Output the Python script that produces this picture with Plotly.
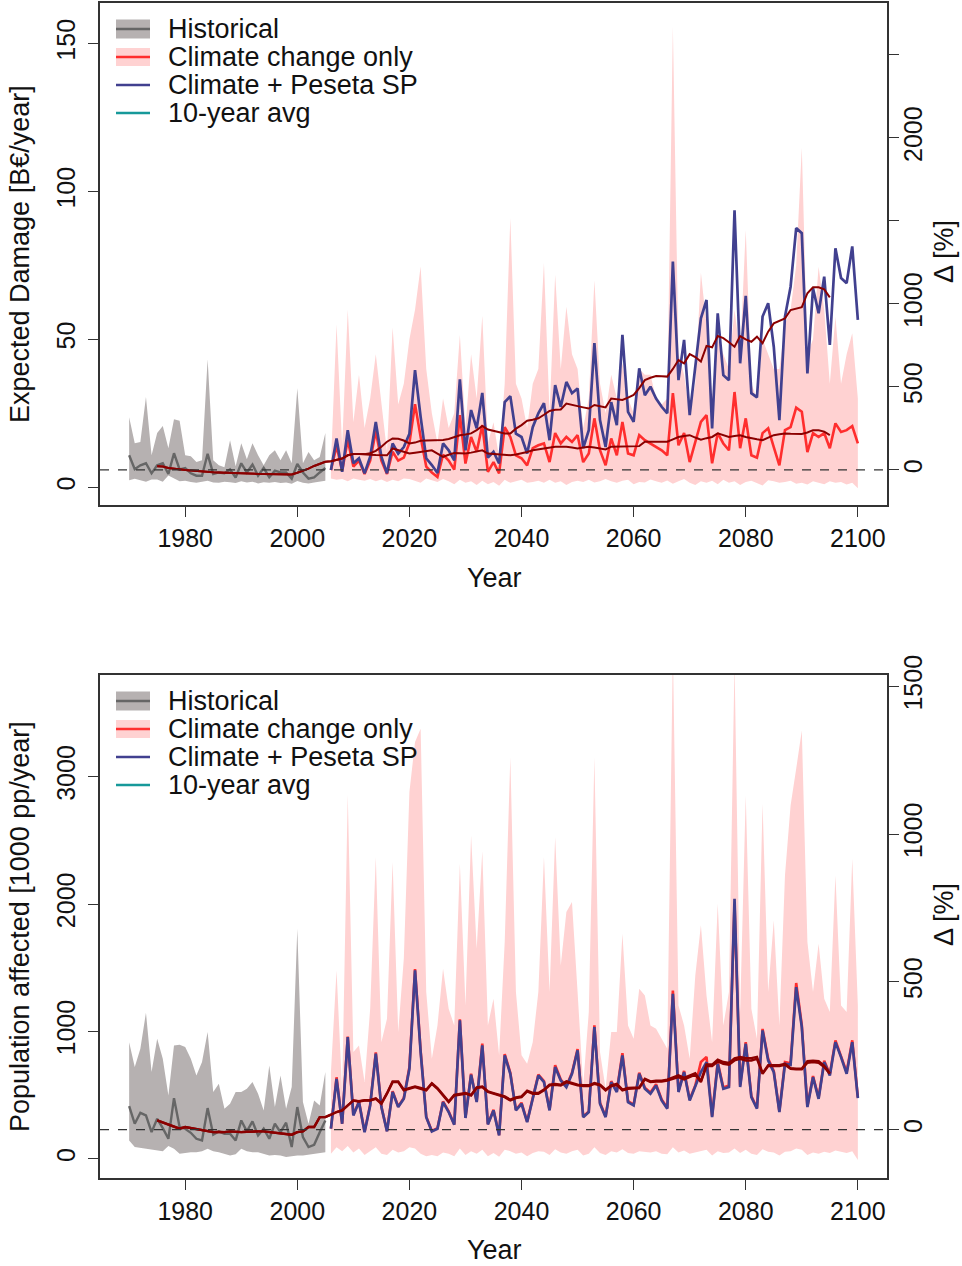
import plotly.graph_objects as go

# ---------------- data ----------------
hist_years = list(range(1970, 2006))
fut_years = list(range(2006, 2101))
avg_years = list(range(1975, 2096))

# Top panel: Expected damage [B EUR / year]
hist_dmg_med = [10.8, 6.1, 7.4, 8.1, 4.7, 7.4, 8.1, 4.5, 11.5, 6.0,
                6.5, 4.7, 3.9, 3.9, 11.3, 4.5, 5.0, 4.7, 6.0, 3.3,
                8.1, 5.0, 7.7, 3.9, 6.5, 3.4, 5.6, 5.0, 5.0, 2.9,
                7.9, 5.0, 2.9, 3.3, 5.0, 6.5]
hist_dmg_hi = [23.7, 14.9, 15.3, 30.5, 10.8, 18.3, 20.7, 13.2, 23.0, 22.5,
               10.8, 10.5, 8.5, 9.1, 43.3, 9.1, 7.4, 6.8, 15.9, 7.1,
               14.9, 9.5, 14.9, 10.8, 7.4, 10.8, 12.5, 9.1, 12.5, 8.1,
               33.5, 8.1, 11.9, 9.1, 10.2, 18.3]
hist_dmg_lo = [2.4, 2.9, 2.4, 1.9, 2.6, 2.6, 1.9, 4.0, 3.0, 2.0,
               2.2, 1.8, 1.5, 1.9, 2.2, 1.6, 1.5, 1.9, 1.7, 1.4,
               2.0, 1.6, 1.9, 1.3, 1.7, 1.5, 1.8, 1.4, 1.6, 1.2,
               2.1, 1.5, 1.3, 1.6, 1.8, 2.2]

cc_dmg_med = [5.8, 14.0, 5.5, 16.0, 7.0, 9.0, 4.5, 9.0, 19.0, 9.0,
              4.5, 12.0, 9.0, 10.0, 15.0, 28.1, 17.0, 7.0, 5.0, 3.5,
              11.0, 9.0, 6.0, 24.4, 8.0, 17.0, 12.0, 21.0, 5.2, 8.5,
              4.7, 20.3, 17.0, 10.8, 9.8, 7.4, 13.2, 14.2, 14.8, 8.5,
              18.3, 14.8, 17.0, 15.3, 17.6, 8.5, 11.4, 23.3, 12.5, 7.4,
              16.5, 10.8, 22.1, 11.4, 10.8, 17.6, 15.9, 14.8, 13.6, 12.5,
              10.8, 31.8, 14.2, 18.3, 8.5, 15.3, 22.1, 24.4, 8.1, 18.3,
              14.8, 12.5, 32.2, 13.2, 23.3, 10.8, 10.0, 18.3, 19.9, 13.6,
              7.4, 19.3, 20.3, 26.9, 25.5, 11.9, 18.3, 17.0, 18.3, 13.2,
              21.6, 18.7, 19.3, 20.7, 14.8]
sp_dmg_med = [5.8, 16.5, 5.2, 19.3, 8.1, 9.8, 4.7, 10.3, 22.1, 10.3,
              4.7, 14.8, 11.4, 13.6, 18.1, 39.6, 23.8, 9.8, 7.5, 4.8,
              14.8, 12.5, 9.1, 36.5, 12.5, 26.1, 19.9, 31.9, 10.0, 12.0,
              8.1, 28.8, 30.8, 18.1, 17.0, 11.4, 20.3, 25.0, 28.4, 15.9,
              34.5, 27.2, 35.6, 31.8, 33.4, 13.2, 19.3, 48.7, 22.7, 13.6,
              28.8, 21.0, 51.5, 25.5, 22.1, 40.2, 31.1, 34.0, 30.0, 27.2,
              25.0, 76.3, 36.2, 49.8, 24.4, 40.7, 57.1, 63.3, 19.9, 58.8,
              37.9, 36.2, 93.6, 41.9, 64.7, 31.8, 30.4, 57.7, 62.2, 47.5,
              22.7, 57.7, 67.8, 87.6, 85.9, 38.5, 67.3, 58.8, 71.2, 48.1,
              80.8, 70.7, 69.0, 81.4, 56.6]
cc_dmg_hi = [8, 55, 14, 60, 22, 38, 20, 30, 45, 28,
             12, 54, 28, 35, 50, 60, 74.6, 40, 25, 15,
             30, 20, 25, 51.5, 20, 45, 30, 58, 15, 22,
             10, 35, 91, 35, 30, 20, 35, 40, 75.8, 25,
             71.8, 40, 61, 45, 40, 20, 30, 70, 35, 25,
             38, 30, 42, 30, 25, 40, 38, 38, 30, 28,
             30, 155.8, 45, 38, 25, 35, 72.5, 55, 30, 50,
             45, 40, 60, 45, 87, 35, 30, 50, 45, 40,
             40, 55, 60, 75, 114.8, 45, 50, 74.5, 60, 35,
             57.6, 35, 45, 52.1, 30]
cc_dmg_lo = [3.0, 2.5, 2.8, 2.0, 3.0, 2.5, 2.2, 2.8, 2.0, 2.6,
             1.8, 2.5, 2.0, 3.0, 2.8, 2.2, 1.5, 3.0, 2.5, 1.8,
             2.8, 2.0, 1.0, 2.5, 1.5, 2.0, 0.8, 2.2, 1.0, 1.8,
             0.5, 2.5, 1.5, 2.0, 2.5, 1.5, 1.8, 2.2, 1.5, 2.5,
             1.5, 2.0, 0.8, 1.8, 2.2, 1.8, 2.5, 1.6, 2.0, 2.8,
             2.0, 1.5, 2.2, 2.5, 1.0, 1.8, 1.6, 2.6, 2.0, 1.5,
             2.3, 1.2, 2.0, 2.8, 1.5, 0.8, 2.0, 1.5, 2.2, 1.0,
             2.5, 1.5, 2.0, 0.8, 1.8, 2.2, 1.5, 0.6, 2.4, 2.0,
             1.5, 1.8, 2.2, 1.2, 1.5, 0.9, 2.0, 1.5, 1.0, 2.0,
             1.5, 1.8, 0.9, 1.5, -0.3]
avg_dmg_sp = [7.1, 7.0, 6.5, 6.2, 6.0, 5.8, 5.7, 5.5, 5.4, 5.3,
              5.1, 5.0, 4.9, 4.8, 4.7, 4.7, 4.6, 4.6, 4.5, 4.5,
              4.5, 4.4, 4.4, 4.3, 4.3, 4.9, 5.5, 6.3, 7.2, 8.0,
              8.6, 8.8, 9.2, 9.7, 10.8, 11.2, 11.2, 11.2, 11.5, 12.3,
              13.7, 15.4, 16.5, 16.4, 15.8, 14.8, 15.1, 15.7, 15.8, 15.8,
              15.8, 16.0, 16.3, 17.0, 17.6, 17.8, 18.2, 19.3, 20.7, 19.5,
              19.1, 18.7, 18.2, 18.2, 19.8, 21.0, 22.5, 22.8, 23.3, 24.5,
              25.8, 26.2, 26.3, 28.3, 27.8, 27.4, 27.0, 26.6, 27.8, 27.4,
              27.0, 30.0, 29.8, 29.5, 30.3, 31.2, 33.5, 36.2, 37.0, 37.6,
              37.5, 37.4, 40.0, 43.0, 41.9, 45.0, 44.0, 42.5, 47.8, 47.3,
              51.1, 50.4, 49.0, 47.5, 51.1, 50.0, 49.2, 50.9, 48.7, 52.6,
              55.4, 56.3, 57.1, 59.9, 60.5, 60.9, 65.6, 67.6, 67.6, 66.9,
              64.2]
avg_dmg_cc = [7.1, 7.0, 6.5, 6.2, 6.0, 5.8, 5.7, 5.5, 5.4, 5.3,
              5.1, 5.0, 4.9, 4.8, 4.7, 4.7, 4.6, 4.6, 4.5, 4.5,
              4.5, 4.4, 4.4, 4.3, 4.3, 4.9, 5.5, 6.3, 7.2, 8.0,
              8.6, 8.8, 9.2, 9.7, 10.8, 11.2, 11.2, 11.2, 11.0, 10.9,
              10.9, 10.8, 13.1, 12.5, 11.8, 11.4, 11.7, 12.0, 12.2, 12.5,
              11.4, 10.3, 11.0, 11.6, 11.5, 11.4, 11.7, 12.0, 12.5, 11.4,
              11.3, 11.2, 11.0, 10.8, 11.1, 11.4, 11.9, 12.5, 12.8, 13.1,
              13.4, 13.7, 13.7, 13.7, 13.4, 13.1, 13.4, 13.7, 13.4, 13.1,
              12.8, 13.7, 13.7, 13.7, 13.8, 13.9, 13.9, 15.4, 15.4, 15.4,
              15.4, 15.4, 16.2, 17.0, 17.3, 17.6, 16.8, 16.1, 16.6, 17.0,
              18.2, 17.6, 17.0, 17.3, 17.6, 17.0, 16.5, 16.2, 15.9, 16.8,
              17.6, 17.9, 18.2, 18.1, 18.0, 18.0, 18.5, 19.3, 19.3, 18.8,
              17.6]

# Bottom panel: Population affected [1000 pp / year]
hist_pop_med = [414, 275, 361, 340, 209, 314, 241, 157, 476, 249,
                236, 204, 157, 144, 398, 189, 215, 197, 197, 144,
                301, 215, 293, 183, 236, 157, 275, 209, 283, 92,
                406, 170, 92, 110, 209, 301]
hist_pop_hi = [916, 720, 864, 1147, 681, 942, 785, 497, 890, 895,
               877, 785, 654, 759, 995, 524, 589, 393, 432, 524,
               524, 550, 602, 511, 380, 733, 406, 654, 393, 563,
               1806, 445, 275, 458, 419, 681]
hist_pop_lo = [144, 92, 85, 79, 70, 66, 60, 100, 79, 39,
               45, 52, 52, 60, 79, 60, 52, 40, 26, 35,
               79, 60, 52, 52, 40, 26, 30, 26, 13, 20,
               26, 26, 30, 39, 45, 52]
cc_pop_med = [236, 640, 275, 960, 345, 450, 212, 425, 835, 410,
              218, 530, 410, 478, 720, 1490, 850, 330, 218, 240,
              450, 372, 270, 1095, 325, 668, 450, 905, 272, 385,
              186, 822, 675, 385, 440, 292, 478, 662, 610, 385,
              735, 622, 570, 675, 862, 332, 372, 1048, 440, 332,
              610, 532, 830, 452, 425, 675, 558, 520, 585, 465,
              400, 1320, 532, 690, 465, 575, 760, 800, 335, 760,
              560, 575, 2000, 575, 915, 492, 400, 1020, 785, 690,
              372, 760, 750, 1380, 1050, 412, 650, 480, 770, 665,
              930, 810, 680, 930, 485]
sp_pop_med = [236, 628, 275, 956, 340, 445, 209, 419, 825, 406,
              215, 524, 406, 471, 707, 1479, 838, 327, 215, 236,
              445, 367, 267, 1087, 320, 660, 445, 890, 270, 380,
              183, 812, 667, 380, 432, 288, 471, 654, 602, 380,
              720, 615, 563, 667, 851, 327, 367, 1034, 432, 327,
              602, 524, 812, 445, 419, 667, 550, 511, 576, 458,
              393, 1296, 524, 681, 458, 563, 681, 759, 327, 746,
              550, 563, 2042, 563, 903, 484, 393, 1008, 772, 681,
              367, 746, 738, 1348, 1034, 406, 641, 471, 759, 654,
              916, 798, 667, 916, 476]
cc_pop_hi = [681, 1479, 524, 2860, 838, 890, 602, 1178, 2369, 916,
             1100, 2330, 995, 1571, 2880, 3272, 3377, 1309, 785, 1047,
             1492, 1178, 1047, 2317, 1204, 2539, 1649, 2415, 1047, 1257,
             812, 1702, 3154, 1309, 812, 746, 916, 1309, 2369, 1309,
             2526, 1518, 1937, 2016, 1309, 576, 1152, 3154, 838, 550,
             995, 995, 1767, 1047, 942, 1335, 1283, 1047, 1021, 942,
             864, 4000, 1204, 1047, 785, 1440, 1833, 1283, 916, 2003,
             1047, 1309, 3900, 1152, 2853, 1178, 942, 2788, 1309, 1872,
             1047, 2225, 2775, 3063, 3364, 1702, 1309, 1689, 1257, 1152,
             2225, 1204, 1152, 2356, 1204]
cc_pop_lo = [40, 90, 60, 100, 50, 80, 30, 60, 90, 40,
             30, 70, 50, 60, 90, 80, 40, 20, 30, 20,
             50, 40, 20, 80, 30, 60, 40, 70, 20, 45,
             15, 70, 60, 40, 50, 20, 45, 60, 55, 30,
             75, 50, 40, 60, 70, 25, 40, 90, 45, 30,
             60, 50, 75, 45, 40, 60, 55, 50, 60, 40,
             35, 90, 50, 65, 40, 55, 60, 70, 25, 60,
             45, 50, 80, 45, 70, 40, 30, 75, 55, 50,
             25, 55, 60, 80, 70, 30, 50, 40, 55, 45,
             65, 55, 45, 60, -10]
avg_pop_sp = [301, 285, 267, 250, 236, 249, 240, 236, 225, 215,
              209, 210, 209, 215, 212, 209, 212, 215, 215, 215,
              210, 204, 198, 189, 189, 209, 215, 249, 249, 327,
              327, 346, 367, 380, 419, 458, 450, 458, 458, 471,
              432, 511, 602, 602, 537, 550, 563, 550, 537, 589,
              550, 497, 445, 497, 503, 511, 497, 555, 563, 524,
              511, 497, 484, 458, 476, 484, 529, 511, 511, 537,
              576, 581, 576, 602, 589, 576, 571, 571, 589, 576,
              537, 571, 581, 537, 550, 555, 555, 623, 602, 607,
              607, 615, 628, 641, 623, 641, 660, 602, 728, 728,
              764, 746, 738, 772, 785, 772, 772, 785, 667, 728,
              728, 728, 738, 707, 702, 702, 754, 759, 754, 720,
              667]
avg_pop_cc = [301, 285, 267, 250, 236, 249, 240, 236, 225, 215,
              209, 210, 209, 215, 212, 209, 212, 215, 215, 215,
              210, 204, 198, 189, 189, 209, 215, 249, 249, 327,
              327, 346, 367, 380, 419, 458, 452, 460, 460, 474,
              436, 515, 607, 607, 542, 555, 568, 556, 542, 594,
              556, 502, 450, 502, 508, 516, 502, 560, 568, 530,
              516, 502, 490, 464, 482, 490, 535, 517, 517, 543,
              582, 588, 582, 608, 595, 582, 577, 577, 595, 582,
              543, 577, 588, 543, 556, 561, 561, 629, 608, 613,
              613, 621, 640, 655, 635, 655, 672, 610, 740, 740,
              778, 760, 752, 788, 800, 790, 790, 800, 672, 735,
              735, 735, 745, 712, 708, 708, 766, 771, 766, 730,
              672]

x_ticks = [1980, 2000, 2020, 2040, 2060, 2080, 2100]
x_range = [1964.8, 2105.2]

# ---------------- style ----------------
FONT = "Liberation Sans, Arial, Helvetica, sans-serif"
C_GREY_BAND = "#b6b1b1"
C_GREY_LINE = "#666666"
C_PINK = "#ffd2d2"
C_RED = "#ff2e2e"
C_BLUE = "#41408f"
C_AVG = "#8b0000"
C_TEAL = "#17999a"
C_AX = "#333333"

W, H = 962, 1266
ML, MR, MT, MB = 100, 75, 3, 88


def PX(px):
    return (px - ML) / (W - ML - MR)


def PY(py):
    return (H - MB - py) / (H - MT - MB)


fig = go.Figure()


def band(xs, lo, hi, color, xa, ya):
    fig.add_trace(go.Scatter(x=xs + xs[::-1], y=hi + lo[::-1], fill="toself",
                             fillcolor=color, line=dict(width=0), mode="lines",
                             hoverinfo="skip", showlegend=False, xaxis=xa, yaxis=ya))


def line(xs, ys, color, width, xa, ya, dash=None):
    fig.add_trace(go.Scatter(x=xs, y=ys, mode="lines",
                             line=dict(color=color, width=width, dash=dash),
                             showlegend=False, xaxis=xa, yaxis=ya))


# top panel
band(hist_years, hist_dmg_lo, hist_dmg_hi, C_GREY_BAND, "x", "y")
band(fut_years, cc_dmg_lo, cc_dmg_hi, C_PINK, "x", "y")
line(hist_years, hist_dmg_med, C_GREY_LINE, 2.4, "x", "y")
line(fut_years, cc_dmg_med, C_RED, 2.6, "x", "y")
line(fut_years, sp_dmg_med, C_BLUE, 2.7, "x", "y")
line(avg_years, avg_dmg_cc, C_AVG, 2.0, "x", "y")
line(avg_years, avg_dmg_sp, C_AVG, 2.0, "x", "y")
line(x_range, [0, 0], C_AX, 1.3, "x", "y2", dash="dash")

# bottom panel
band(hist_years, hist_pop_lo, hist_pop_hi, C_GREY_BAND, "x2", "y3")
band(fut_years, cc_pop_lo, cc_pop_hi, C_PINK, "x2", "y3")
line(hist_years, hist_pop_med, C_GREY_LINE, 2.4, "x2", "y3")
line(fut_years, cc_pop_med, C_RED, 2.6, "x2", "y3")
line(fut_years, sp_pop_med, C_BLUE, 2.7, "x2", "y3")
line(avg_years, avg_pop_cc, C_AVG, 2.4, "x2", "y3")
line(avg_years, avg_pop_sp, C_AVG, 2.4, "x2", "y3")
line(x_range, [0, 0], C_AX, 1.3, "x2", "y4", dash="dash")

top_dom = [PY(505), 1.0]
bot_dom = [0.0, PY(675)]

axis_common = dict(showline=True, linecolor=C_AX, linewidth=1.5, ticks="outside",
                   ticklen=10, tickwidth=1.2, tickcolor=C_AX, showgrid=False,
                   zeroline=False, automargin=False,
                   tickfont=dict(family=FONT, size=25, color="#111"))

xa = dict(axis_common, range=x_range, tickvals=x_ticks, mirror=True, ticklabelstandoff=0)
fig.update_layout(
    xaxis=dict(xa, domain=[0, 1], anchor="y"),
    xaxis2=dict(xa, domain=[0, 1], anchor="y3"),
    yaxis=dict(axis_common, domain=top_dom, anchor="x", range=[-6.0, 163.7],
               tickvals=[0, 50, 100, 150], tickangle=-90, mirror=True, ticklabelstandoff=3),
    yaxis2=dict(axis_common, overlaying="y", side="right", anchor="x", range=[-211, 2813],
                tickvals=[0, 500, 1000, 1500, 2000, 2500],
                ticktext=["0", "500", "1000", "", "2000", ""], tickangle=-90,
                ticklabelstandoff=-7),
    yaxis3=dict(axis_common, domain=bot_dom, anchor="x2", range=[-151, 3799],
                tickvals=[0, 1000, 2000, 3000], tickangle=-90, mirror=True,
                ticklabelstandoff=3),
    yaxis4=dict(axis_common, overlaying="y3", side="right", anchor="x2", range=[-163.4, 1539],
                tickvals=[0, 500, 1000, 1500], tickangle=-90, ticklabelstandoff=-7),
)

annotations = []
shapes = []


def txt(x, y, s, size=27, angle=0, xanchor="center"):
    annotations.append(dict(x=PX(x), y=PY(y), xref="paper", yref="paper", text=s,
                            showarrow=False, textangle=angle, xanchor=xanchor,
                            yanchor="middle", font=dict(family=FONT, size=size, color="#111")))


# axis titles
txt(20, 254, "Expected Damage [B€/year]", angle=-90)
txt(944, 252, "Δ [%]", angle=-90)
txt(494, 578, "Year")
txt(20, 927, "Population affected [1000 pp/year]", angle=-90)
txt(944, 915, "Δ [%]", angle=-90)
txt(494, 1250, "Year")

# legends (manual, R style)
labels = ["Historical", "Climate change only", "Climate + Peseta SP", "10-year avg"]
for off in (0, 672):
    rows = [29 + off, 57 + off, 85 + off, 113 + off]
    shapes.append(dict(type="rect", xref="paper", yref="paper", x0=PX(116), x1=PX(150),
                       y0=PY(rows[0] + 9.5), y1=PY(rows[0] - 9.5), fillcolor=C_GREY_BAND,
                       line=dict(width=0)))
    shapes.append(dict(type="rect", xref="paper", yref="paper", x0=PX(116), x1=PX(150),
                       y0=PY(rows[1] + 9), y1=PY(rows[1] - 9), fillcolor=C_PINK,
                       line=dict(width=0)))
    for r, c in zip(rows, [C_GREY_LINE, C_RED, C_BLUE, C_TEAL]):
        shapes.append(dict(type="line", xref="paper", yref="paper", x0=PX(116), x1=PX(150),
                           y0=PY(r), y1=PY(r), line=dict(color=c, width=2.6)))
    for r, lab in zip(rows, labels):
        txt(166, r, lab, size=27, xanchor="left")

fig.update_layout(
    width=W, height=H, margin=dict(l=ML, r=MR, t=MT, b=MB, autoexpand=False),
    paper_bgcolor="white", plot_bgcolor="white", showlegend=False,
    annotations=annotations, shapes=shapes,
    font=dict(family=FONT, size=25, color="#111"),
)

fig.write_html("out.html", config={"displayModeBar": False},
               post_script="document.body.style.margin='0px';document.body.style.padding='0px';")
